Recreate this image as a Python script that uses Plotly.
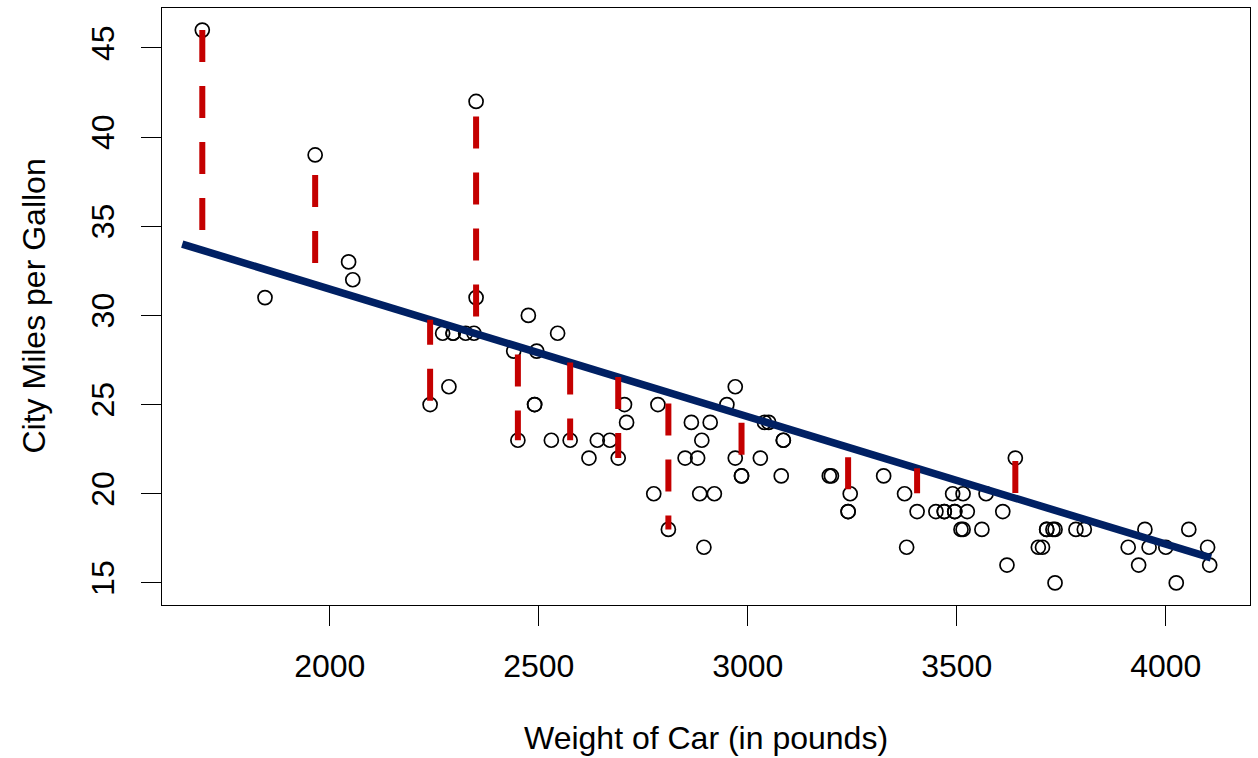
import numpy as np
import plotly.graph_objects as go

# Cars93: Weight (lbs) and MPG.city
weight = [2705, 3560, 3375, 3405, 3640, 2880, 3470, 4105, 3495, 3620,
          3935, 2490, 2785, 3240, 3195, 3715, 4025, 3910, 3380, 3515,
          3085, 3570, 2270, 2670, 2970, 3705, 3080, 3805, 2295, 3490,
          1845, 2530, 2690, 2850, 2710, 3735, 3325, 3950, 1695, 2475,
          2865, 2350, 3040, 2345, 2620, 2285, 2885, 4000, 3510, 3515,
          3695, 4055, 2325, 2440, 2970, 3735, 2895, 2920, 3525, 2450,
          3610, 2295, 3730, 2545, 3050, 4100, 3200, 2910, 2890, 3715,
          3470, 2640, 2350, 2575, 3240, 3450, 3495, 2775, 2495, 2045,
          2490, 3085, 1965, 2055, 2950, 3030, 3785, 2240, 3960, 2985,
          2810, 2985, 3245]
mpg_city = [25, 18, 20, 19, 22, 22, 19, 16, 19, 16,
            16, 25, 25, 19, 21, 18, 15, 17, 17, 20,
            23, 20, 29, 23, 22, 17, 21, 18, 29, 20,
            31, 23, 22, 22, 24, 15, 21, 18, 46, 30,
            24, 42, 24, 29, 22, 26, 20, 17, 18, 18,
            17, 18, 29, 28, 26, 18, 17, 20, 19, 23,
            19, 29, 18, 29, 24, 17, 21, 24, 23, 18,
            19, 23, 31, 23, 19, 19, 19, 20, 28, 33,
            25, 23, 39, 32, 25, 22, 18, 25, 17, 21,
            18, 21, 20]

# Cars whose residuals are highlighted
hl_weight = [1695, 1965, 2240, 2350, 2450, 2575, 2690, 2810, 2985, 3240, 3405, 3640]
hl_mpg = [46, 39, 25, 42, 23, 23, 22, 18, 21, 19, 19, 22]

# Fitted line (end points)
line_x = [1647, 4108]
line_y = [34.0, 16.4]

x_ticks = [2000, 2500, 3000, 3500, 4000]
y_ticks = [15, 20, 25, 30, 35, 40, 45]

# dash phase of each residual segment (px offset from its upper end)
dash_phase = [0, 20, -7, 15, 8, 0, 0, 11, 8, 10, -7, 3]

FONT = "Liberation Sans, Arial, sans-serif"
FS = 32
DASH_ON, DASH_OFF = 32, 24


def dash_string(phase):
    if phase >= 0:
        parts = [0, phase]
    else:
        parts = [DASH_ON + phase, DASH_OFF]
    parts += [DASH_ON, DASH_OFF] * 7
    return ",".join(f"{p}px" for p in parts)


fig = go.Figure()

fig.add_trace(go.Scatter(
    x=weight, y=mpg_city, mode="markers",
    marker=dict(symbol="circle-open", size=14, color="black",
                line=dict(width=1.7, color="black")),
    showlegend=False, hoverinfo="x+y"))

fig.add_trace(go.Scatter(
    x=line_x, y=line_y, mode="lines",
    line=dict(color="#002063", width=7.5), showlegend=False))

for xv, yv, ph in zip(hl_weight, hl_mpg, dash_phase):
    fv = float(np.interp(xv, line_x, line_y))
    top, bot = max(yv, fv), min(yv, fv)
    fig.add_trace(go.Scatter(
        x=[xv, xv], y=[top, bot], mode="lines",
        line=dict(color="#C40000", width=6, dash=dash_string(ph)),
        showlegend=False, hoverinfo="skip"))

axis_common = dict(showline=True, linecolor="black", linewidth=1.3, mirror=True,
                   ticks="outside", ticklen=20, tickwidth=1.3, tickcolor="black",
                   showgrid=False, zeroline=False,
                   tickfont=dict(family=FONT, size=FS, color="black"))

fig.update_xaxes(range=[1598.6, 4201.4], tickvals=x_ticks,
                 ticklabelstandoff=12, **axis_common)
fig.update_yaxes(range=[13.76, 47.24], tickvals=y_ticks, tickangle=-90,
                 ticklabelstandoff=14, **axis_common)

fig.add_annotation(text="Weight of Car (in pounds)", xref="paper", yref="paper",
                   x=0.5, y=(605 - 738) / 597, xanchor="center", yanchor="middle",
                   showarrow=False, font=dict(family=FONT, size=FS, color="black"))
fig.add_annotation(text="City Miles per Gallon", xref="paper", yref="paper",
                   x=(33 - 162) / 1088, y=0.5, xanchor="center", yanchor="middle",
                   textangle=-90, showarrow=False,
                   font=dict(family=FONT, size=FS, color="black"))

fig.update_layout(
    width=1258, height=758,
    margin=dict(l=162, r=8, t=8, b=153),
    plot_bgcolor="white", paper_bgcolor="white",
    font=dict(family=FONT, color="black"),
)

fig.write_html("out.html")
